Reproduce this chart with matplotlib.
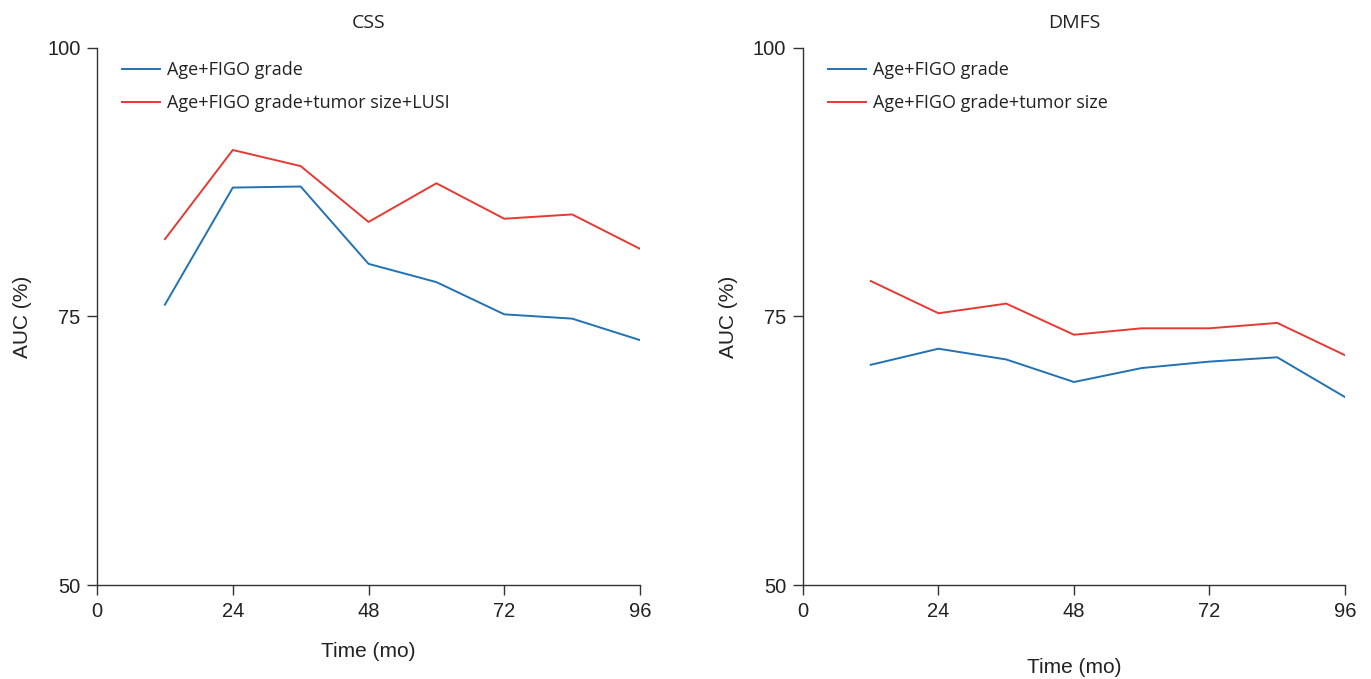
import numpy as np
import matplotlib
matplotlib.use('Agg')
import matplotlib.pyplot as plt

# time points (months)
months = [12, 24, 36, 48, 60, 72, 84, 96]

# CSS panel
css_base = [76.1, 87.0, 87.1, 79.9, 78.2, 75.2, 74.8, 72.8]
css_full = [82.2, 90.5, 89.0, 83.8, 87.4, 84.1, 84.5, 81.3]

# DMFS panel
dmfs_base = [70.5, 72.0, 71.0, 68.9, 70.2, 70.8, 71.2, 67.5]
dmfs_full = [78.3, 75.3, 76.2, 73.3, 73.9, 73.9, 74.4, 71.4]

x_ticks = [0, 24, 48, 72, 96]
y_ticks = [50, 75, 100]

BLUE = '#2271b3'
RED = '#e53a32'
AXC = '#333333'

fig = plt.figure(figsize=(13.71, 6.79), dpi=100)
ax1 = fig.add_axes([0.0708, 0.1384, 0.396, 0.791])
ax2 = fig.add_axes([0.5857, 0.1384, 0.3953, 0.791])

panels = [
    (ax1, 'CSS', css_base, css_full, 'Age+FIGO grade+tumor size+LUSI', 15),
    (ax2, 'DMFS', dmfs_base, dmfs_full, 'Age+FIGO grade+tumor size', 27),
]

for ax, title, base, full, full_label, xlab_pad in panels:
    ax.plot(months, base, color=BLUE, linewidth=1.4, label='Age+FIGO grade')
    ax.plot(months, full, color=RED, linewidth=1.4, label=full_label)

    ax.set_xlim(0, 96)
    ax.set_ylim(50, 100)
    ax.set_xticks(x_ticks)
    ax.set_yticks(y_ticks)
    for side in ['top', 'right']:
        ax.spines[side].set_visible(False)
    for side in ['left', 'bottom']:
        ax.spines[side].set_color(AXC)
        ax.spines[side].set_linewidth(1.0)
    ax.tick_params(axis='both', direction='out', length=7, width=1.0,
                   color=AXC, labelsize=14.5, labelcolor='#222222', pad=5)
    for lbl in ax.get_xticklabels() + ax.get_yticklabels():
        lbl.set_fontfamily('Liberation Sans')

    ax.set_title(title, fontsize=14, family='Open Sans', color='#222222', pad=14)
    ax.set_ylabel('AUC (%)', fontsize=15, family='Liberation Sans', color='#222222', labelpad=11)
    ax.set_xlabel('Time (mo)', fontsize=15, family='Liberation Sans', color='#222222', labelpad=xlab_pad)

    leg = ax.legend(loc='upper left', bbox_to_anchor=(0.016, 1.006), frameon=False,
                    prop={'family': 'Open Sans', 'size': 13},
                    handlelength=2.1, handletextpad=0.4, labelspacing=0.85)
    for txt in leg.get_texts():
        txt.set_color('#222222')

fig.savefig('out.png', dpi=100, facecolor='white')
